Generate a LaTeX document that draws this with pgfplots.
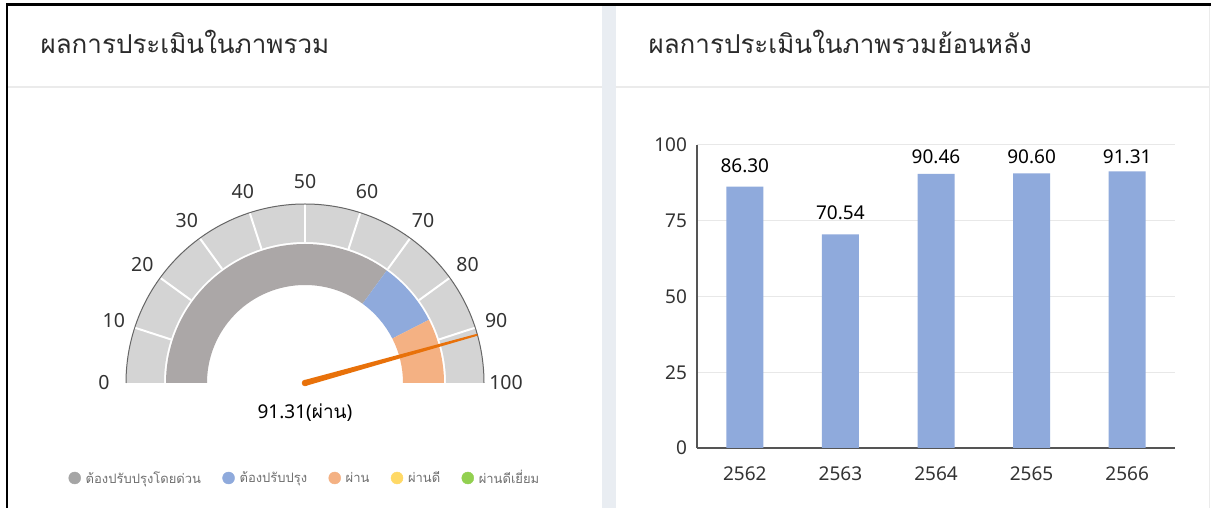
\documentclass[border=0pt]{standalone}
\usepackage{pgfplots}
\pgfplotsset{compat=1.18}
\usepackage{fontspec}
\setmainfont{Noto Sans}
\newfontfamily\thaifont[Script=Thai]{Loma}
\definecolor{gbar}{HTML}{8FAADC}
\definecolor{ggray}{HTML}{ABA7A7}
\definecolor{gorange}{HTML}{F4B183}
\definecolor{gouter}{HTML}{D4D4D4}
\definecolor{needlec}{HTML}{E8710A}
\definecolor{gyellow}{HTML}{FFD966}
\definecolor{ggreen}{HTML}{92D050}
\definecolor{legendgray}{HTML}{A5A5A5}
\definecolor{ticktext}{HTML}{333333}
\definecolor{titlec}{HTML}{2B2B2B}
\definecolor{legtext}{HTML}{707070}
\definecolor{gridc}{HTML}{E8E8E8}
\definecolor{axisc}{HTML}{555555}
\definecolor{arcc}{HTML}{666666}
\definecolor{gapc}{HTML}{E9EDF2}
\definecolor{hline}{HTML}{EBEBEB}
\newcommand\gaugeseg[3]{%
  \fill[#3] ({180-1.8*#1}:98pt) -- ({180-1.8*#1}:139pt)
    arc[start angle={180-1.8*#1}, end angle={180-1.8*#2}, radius=139pt]
    -- ({180-1.8*#2}:98pt)
    arc[start angle={180-1.8*#2}, end angle={180-1.8*#1}, radius=98pt] -- cycle;}
\begin{document}
\begin{tikzpicture}[x=1pt,y=1pt]
\useasboundingbox (0,0) rectangle (1211,508);
\fill[white] (0,0) rectangle (1211,508);
\fill[gapc] (601.5,0) rectangle (615.5,503);
\draw[hline, line width=1.2pt] (8,421) -- (601.5,421);
\draw[hline, line width=1.2pt] (615.5,421) -- (1209,421);
\draw[hline, line width=1pt] (1209.5,0) -- (1209.5,503);
\draw[black, line width=2.5pt] (7,0) -- (7,503.5) -- (1211,503.5);
\node[anchor=west, font=\thaifont\fontsize{26}{30}\selectfont, text=titlec] at (37,466) {ผลการประเมินในภาพรวม};
\node[anchor=west, font=\thaifont\fontsize{26}{30}\selectfont, text=titlec] at (645,466) {ผลการประเมินในภาพรวมย้อนหลัง};

% ---------- gauge ----------
\begin{axis}[at={(305pt,125pt)}, anchor=origin, x=1pt, y=1pt,
  xmin=-230, xmax=230, ymin=-20, ymax=220, hide axis, clip=false,
  legend style={at={(0.5,-0.3125)}, anchor=center, draw=none, fill=none,
    legend columns=5, font=\thaifont\fontsize{13}{15}\selectfont,
    /tikz/every odd column/.append style={column sep=3pt},
    /tikz/every even column/.append style={column sep=19.5pt}},
  legend cell align=left]
\begin{scope}[shift={(axis cs:0,0)}]
\fill[gouter] (180:141pt) arc[start angle=180,end angle=0,radius=141pt]
  -- (0:179pt) arc[start angle=0,end angle=180,radius=179pt] -- cycle;
\pgfplotsinvokeforeach{10,20,...,90}{%
  \draw[white, line width=2pt] ({180-1.8*#1}:141pt) -- ({180-1.8*#1}:179pt);}
\draw[arcc, line width=1pt] (180:179pt) arc[start angle=180,end angle=0,radius=179pt];
\gaugeseg{0}{70}{ggray}
\gaugeseg{70}{85}{gbar}
\gaugeseg{85}{100}{gorange}
\pgfplotsinvokeforeach{0,10,...,100}{%
  \node[font=\fontsize{19.5}{19.5}\selectfont, text=ticktext] at ({180-1.8*#1}:201pt) {#1};}
\end{scope}
% needle at 91.31
\addplot[fill=needlec, draw=none, forget plot] coordinates
  {(0.809,-2.889) (172.64,47.30) (172.10,49.22) (-0.809,2.889)};
\addplot[needlec, only marks, mark=*, mark size=3pt, forget plot]
  coordinates {(0,0)};
\node[font=\fontsize{19}{19}\selectfont, text=black] at (axis cs:0,-30) {91.31({\thaifont ผ่าน})};
\addlegendimage{only marks, mark=*, mark size=6pt, color=legendgray}
\addlegendentry{\textcolor{legtext}{ต้องปรับปรุงโดยด่วน}}
\addlegendimage{only marks, mark=*, mark size=6pt, color=gbar}
\addlegendentry{\textcolor{legtext}{ต้องปรับปรุง}}
\addlegendimage{only marks, mark=*, mark size=6pt, color=gorange}
\addlegendentry{\textcolor{legtext}{ผ่าน}}
\addlegendimage{only marks, mark=*, mark size=6pt, color=gyellow}
\addlegendentry{\textcolor{legtext}{ผ่านดี}}
\addlegendimage{only marks, mark=*, mark size=6pt, color=ggreen}
\addlegendentry{\textcolor{legtext}{ผ่านดีเยี่ยม}}
\end{axis}

% ---------- bar chart ----------
\begin{axis}[at={(697pt,60pt)}, anchor=south west, scale only axis,
  width=478pt, height=303pt,
  xmin=-0.5, xmax=4.5, ymin=0, ymax=100,
  axis x line*=bottom, axis y line*=left,
  axis line style={draw=axisc, line width=1.3pt},
  ytick={0,25,50,75,100}, xtick={0,1,2,3,4},
  xticklabels={2562,2563,2564,2565,2566},
  major tick length=0pt,
  ymajorgrids, grid style={draw=gridc, line width=1pt},
  tick label style={font=\fontsize{19}{19}\selectfont, text=ticktext},
  /pgf/number format/assume math mode=true,
  yticklabel style={xshift=-6.5pt},
  xticklabel style={yshift=-15pt},
  ybar, bar width=37pt,
  nodes near coords, point meta=explicit symbolic,
  visualization depends on={rawy \as \yv},
  every node near coord/.append style={font=\fontsize{19}{19}\selectfont, text=black,
    inner sep=0pt, yshift={min(14,(93.9-\yv)*3.03)}}]
\addplot[fill=gbar, draw=none] coordinates
  {(0,86.30) [86.30] (1,70.54) [70.54] (2,90.46) [90.46] (3,90.60) [90.60] (4,91.31) [91.31]};
\end{axis}
\end{tikzpicture}
\end{document}
